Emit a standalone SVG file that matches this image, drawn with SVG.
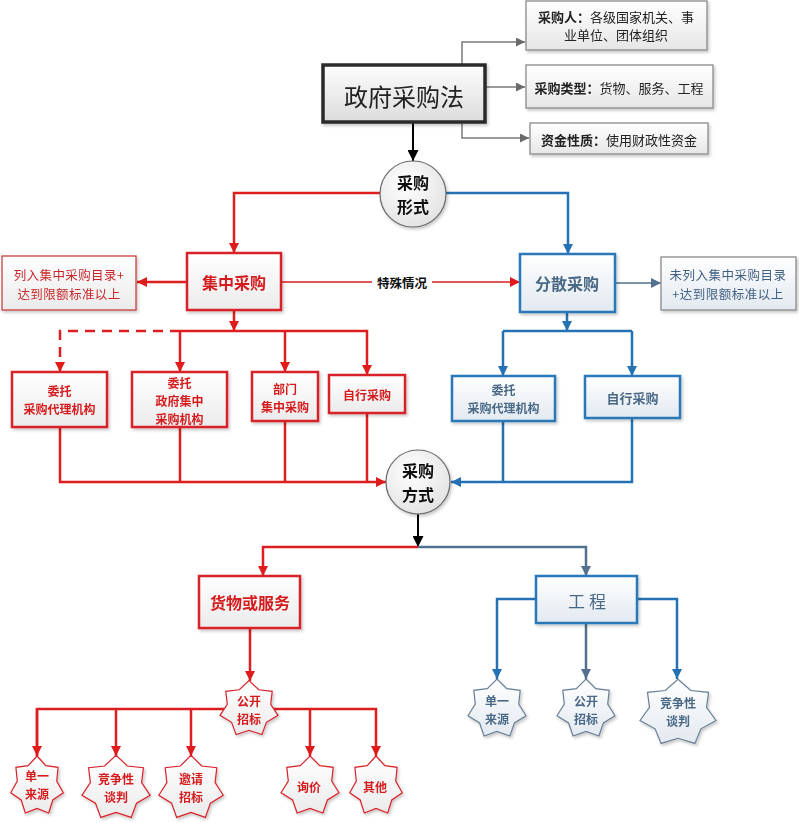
<svg xmlns="http://www.w3.org/2000/svg" width="799" height="823" viewBox="0 0 799 823">
<defs>
<style>
text{font-family:"Noto Sans CJK SC","Noto Sans",sans-serif;text-anchor:middle;dominant-baseline:central}
.ln{fill:none;stroke-width:2.5}
.r{stroke:#dd1d1f}
.b{stroke:#2472b3}
.s{stroke:#52708f}
.k{stroke:#000;stroke-width:2}
.g{fill:none;stroke:#7a7a7a;stroke-width:1.5}
.rb{fill:url(#gW);stroke:#d8222a;stroke-width:2.5}
.bb{fill:url(#gB);stroke:#2a78b8;stroke-width:2.5}
.gb{fill:url(#gG);stroke:#8a8a8a;stroke-width:1.3}
.rt{fill:#d41c1f;font-weight:bold}
.bt{fill:#4a6986;font-weight:bold}
.st{font-size:12px}
.ct{font-size:16px;font-weight:bold;fill:#111}
.rs{fill:url(#gW);stroke:#d8222a;stroke-width:1.2}
.bs{fill:url(#gB);stroke:#6a7f96;stroke-width:1.2}
</style>
<linearGradient id="gW" x1="0" y1="0" x2="0" y2="1"><stop offset="0" stop-color="#ffffff"/><stop offset="1" stop-color="#ebebeb"/></linearGradient>
<linearGradient id="gB" x1="0" y1="0" x2="0" y2="1"><stop offset="0" stop-color="#ffffff"/><stop offset="1" stop-color="#e2e9f0"/></linearGradient>
<linearGradient id="gG" x1="0" y1="0" x2="0" y2="1"><stop offset="0" stop-color="#ffffff"/><stop offset="1" stop-color="#e6e6e6"/></linearGradient>
<linearGradient id="gM" x1="0" y1="0" x2="0" y2="1"><stop offset="0" stop-color="#fdfdfd"/><stop offset="1" stop-color="#dcdcdc"/></linearGradient>
<radialGradient id="gC" cx="0.4" cy="0.35" r="0.7"><stop offset="0" stop-color="#ffffff"/><stop offset="1" stop-color="#e2e2e2"/></radialGradient>
<filter id="sh" x="-15%" y="-15%" width="140%" height="150%"><feDropShadow dx="1.5" dy="2" stdDeviation="1.5" flood-color="#000" flood-opacity="0.22"/></filter>
<marker id="aR" viewBox="0 0 10 10" refX="10" refY="5" markerWidth="11" markerHeight="10" markerUnits="userSpaceOnUse" orient="auto"><path d="M0,0 L10,5 L0,10 z" fill="#e01b1b"/></marker>
<marker id="aB" viewBox="0 0 10 10" refX="10" refY="5" markerWidth="11" markerHeight="10" markerUnits="userSpaceOnUse" orient="auto"><path d="M0,0 L10,5 L0,10 z" fill="#2472b3"/></marker>
<marker id="aS" viewBox="0 0 10 10" refX="10" refY="5" markerWidth="11" markerHeight="10" markerUnits="userSpaceOnUse" orient="auto"><path d="M0,0 L10,5 L0,10 z" fill="#52708f"/></marker>
<marker id="aK" viewBox="0 0 10 10" refX="10" refY="5" markerWidth="12" markerHeight="11" markerUnits="userSpaceOnUse" orient="auto"><path d="M0,0 L10,5 L0,10 z" fill="#000"/></marker>
<marker id="aG" viewBox="0 0 10 10" refX="10" refY="5" markerWidth="11" markerHeight="9" markerUnits="userSpaceOnUse" orient="auto"><path d="M0,0 L10,5 L0,10 z" fill="#6a6a6a"/></marker>
</defs>
<rect width="799" height="823" fill="#fff"/>

<g id="connectors">
  <path class="g" d="M462,65 V42 H525" marker-end="url(#aG)"/>
  <path class="g" d="M485,87 H525" marker-end="url(#aG)"/>
  <path class="g" d="M462,122 V138 H529" marker-end="url(#aG)"/>
  <path class="k" fill="none" d="M413,122 V161" marker-end="url(#aK)"/>
  <path class="ln r" d="M380,193 H234 V253" marker-end="url(#aR)"/>
  <path class="ln b" d="M446,193 H568 V254" marker-end="url(#aB)"/>
  <path class="ln r" d="M187,282 H137" marker-end="url(#aR)"/>
  <path class="ln r" d="M281,282 H520" style="stroke-width:1.6" marker-end="url(#aR)"/>
  <path class="ln s" d="M615,283 H661" style="stroke-width:1.6" marker-end="url(#aS)"/>
  <path class="ln r" d="M234,310 V331" marker-end="url(#aR)"/>
  <path class="ln r" d="M180,331 H60 V372" stroke-dasharray="10,7" marker-end="url(#aR)"/>
  <path class="ln r" d="M180,331 H367 V375" marker-end="url(#aR)"/>
  <path class="ln r" d="M180,331 V372" marker-end="url(#aR)"/>
  <path class="ln r" d="M285,331 V372" marker-end="url(#aR)"/>
  <path class="ln r" d="M60,427 V482 H386" marker-end="url(#aR)"/>
  <path class="ln r" d="M180,427 V482"/>
  <path class="ln r" d="M285,421 V482"/>
  <path class="ln r" d="M367,413 V482"/>
  <path class="ln b" d="M567,312 V331" marker-end="url(#aB)"/>
  <path class="ln b" d="M503,331 H632"/>
  <path class="ln b" d="M503,331 V376" marker-end="url(#aB)"/>
  <path class="ln b" d="M632,331 V376" marker-end="url(#aB)"/>
  <path class="ln b" d="M503,421 V482"/>
  <path class="ln b" d="M632,418 V482 H451" marker-end="url(#aB)"/>
  <path class="k" fill="none" d="M418,514 V547" marker-end="url(#aK)"/>
  <path class="ln r" d="M418,547 H263 V576" marker-end="url(#aR)"/>
  <path class="ln s" d="M418,547 H586 V576" marker-end="url(#aS)"/>
  <path class="ln b" d="M536,599 H497 V679" marker-end="url(#aB)"/>
  <path class="ln s" d="M586,623 V679" marker-end="url(#aS)"/>
  <path class="ln b" d="M637,599 H677 V679" marker-end="url(#aB)"/>
  <path class="ln r" d="M250,628 V681" marker-end="url(#aR)"/>
  <path class="ln r" d="M37,756 V709 H376 V756" marker-end="url(#aR)"/>
  <path class="ln r" d="M116,709 V756" marker-end="url(#aR)"/>
  <path class="ln r" d="M191,709 V756" marker-end="url(#aR)"/>
  <path class="ln r" d="M310,709 V756" marker-end="url(#aR)"/>
  <path class="ln r" d="M37,709 V756" marker-end="url(#aR)"/>
  <rect x="372" y="274" width="60" height="17" fill="#fff"/>
  <text x="402" y="282" style="font-size:12.5px;font-weight:bold" fill="#111">特殊情况</text>
</g>

<g id="n-law" filter="url(#sh)">
  <rect x="323" y="65" width="162" height="57" fill="url(#gM)" stroke="#2b2b2b" stroke-width="3.5"/>
  <text x="404" y="95" style="font-size:24px" fill="#222">政府采购法</text>
</g>
<g id="n-buyer" filter="url(#sh)">
  <rect class="gb" x="526" y="1" width="181" height="49"/>
  <text x="616" y="16" style="font-size:13px" fill="#222"><tspan font-weight="bold">采购人：</tspan>各级国家机关、事</text>
  <text x="616" y="34" style="font-size:13px" fill="#222">业单位、团体组织</text>
</g>
<g id="n-type" filter="url(#sh)">
  <rect class="gb" x="526" y="65" width="187" height="43"/>
  <text x="619" y="87" style="font-size:13px" fill="#222"><tspan font-weight="bold">采购类型：</tspan>货物、服务、工程</text>
</g>
<g id="n-fund" filter="url(#sh)">
  <rect class="gb" x="530" y="123" width="178" height="31"/>
  <text x="619" y="139" style="font-size:13px" fill="#222"><tspan font-weight="bold">资金性质：</tspan>使用财政性资金</text>
</g>

<g id="n-form" filter="url(#sh)">
  <circle cx="413" cy="194" r="33" fill="url(#gC)" stroke="#6a6a6a" stroke-width="1.2"/>
  <text class="ct" x="413" y="182">采购</text>
  <text class="ct" x="413" y="206">形式</text>
</g>

<g id="n-central" filter="url(#sh)">
  <rect class="rb" x="187" y="253" width="94" height="57"/>
  <text class="rt" x="234" y="282" style="font-size:16px">集中采购</text>
</g>
<g id="n-central-note" filter="url(#sh)">
  <rect x="2" y="256" width="134" height="54" fill="url(#gW)" stroke="#c84040" stroke-width="1.3"/>
  <text x="69" y="274" style="font-size:12.5px;letter-spacing:0.4px" fill="#c8282a">列入集中采购目录+</text>
  <text x="69" y="293" style="font-size:12.5px;letter-spacing:0.4px" fill="#c8282a">达到限额标准以上</text>
</g>
<g id="n-dispersed" filter="url(#sh)">
  <rect class="bb" x="520" y="254" width="95" height="58"/>
  <text class="bt" x="567" y="283" style="font-size:16px">分散采购</text>
</g>
<g id="n-dispersed-note" filter="url(#sh)">
  <rect class="gb" x="661" y="257" width="135" height="53" style="fill:url(#gB)"/>
  <text x="728" y="274" style="font-size:12.5px;letter-spacing:0.5px" fill="#3f5f80">未列入集中采购目录</text>
  <text x="728" y="293" style="font-size:12.5px;letter-spacing:0.5px" fill="#3f5f80">+达到限额标准以上</text>
</g>

<g id="n-c-agent" filter="url(#sh)">
  <rect class="rb" x="12" y="372" width="95" height="55"/>
  <text class="rt st" x="59.5" y="390.5">委托</text>
  <text class="rt st" x="59.5" y="408.5">采购代理机构</text>
</g>
<g id="n-c-gov" filter="url(#sh)">
  <rect class="rb" x="132" y="372" width="95" height="55"/>
  <text class="rt st" x="179.5" y="382">委托</text>
  <text class="rt st" x="179.5" y="400">政府集中</text>
  <text class="rt st" x="179.5" y="418">采购机构</text>
</g>
<g id="n-c-dept" filter="url(#sh)">
  <rect class="rb" x="252" y="372" width="66" height="49"/>
  <text class="rt st" x="285" y="388">部门</text>
  <text class="rt st" x="285" y="406">集中采购</text>
</g>
<g id="n-c-self" filter="url(#sh)">
  <rect class="rb" x="329" y="375" width="76" height="38"/>
  <text class="rt st" x="367" y="394">自行采购</text>
</g>
<g id="n-d-agent" filter="url(#sh)">
  <rect class="bb" x="452" y="376" width="103" height="45"/>
  <text class="bt st" x="503.5" y="389.5">委托</text>
  <text class="bt st" x="503.5" y="407.5">采购代理机构</text>
</g>
<g id="n-d-self" filter="url(#sh)">
  <rect class="bb" x="585" y="376" width="95" height="42"/>
  <text class="bt" x="632.5" y="397" style="font-size:13px">自行采购</text>
</g>

<g id="n-method" filter="url(#sh)">
  <circle cx="418" cy="482" r="32" fill="url(#gC)" stroke="#6a6a6a" stroke-width="1.2"/>
  <text class="ct" x="418" y="470">采购</text>
  <text class="ct" x="418" y="494">方式</text>
</g>

<g id="n-goods" filter="url(#sh)">
  <rect class="rb" x="199" y="576" width="101" height="52"/>
  <text class="rt" x="250" y="602" style="font-size:16px">货物或服务</text>
</g>
<g id="n-works" filter="url(#sh)">
  <rect class="bb" x="536" y="576" width="101" height="47"/>
  <text x="587" y="600" style="font-size:17px" fill="#4a6986">工 程</text>
</g>

<g id="n-r-open" filter="url(#sh)">
  <polygon class="rs" points="249,680.6 258.7,689.8 272.2,691.3 270.7,704.3 278,715.3 266.4,722.3 261.9,734.6 249,730.3 236.1,734.6 231.6,722.3 220,715.3 227.3,704.3 225.8,691.3 239.3,689.8"/>
  <text class="rt st" x="249" y="700">公开</text>
  <text class="rt st" x="249" y="718">招标</text>
</g>
<g id="n-r-single" filter="url(#sh)">
  <polygon class="rs" points="37,756 45.8,765.7 58.1,767.3 56.7,781 63.3,792.7 52.8,800 48.7,813 37,808.5 25.3,813 21.2,800 10.7,792.7 17.3,781 15.9,767.3 28.2,765.7"/>
  <text class="rt st" x="37" y="775">单一</text>
  <text class="rt st" x="37" y="793">来源</text>
</g>
<g id="n-r-compete" filter="url(#sh)">
  <polygon class="rs" points="116,755.4 127.4,766 143.4,767.7 141.6,782.6 150.1,795.3 136.5,803.2 131.2,817.4 116,812.5 100.8,817.4 95.5,803.2 81.9,795.3 90.4,782.6 88.6,767.7 104.6,766"/>
  <text class="rt st" x="116" y="778">竞争性</text>
  <text class="rt st" x="116" y="796">谈判</text>
</g>
<g id="n-r-invite" filter="url(#sh)">
  <polygon class="rs" points="191,755.4 201.7,766 216.8,767.7 215.1,782.6 223.2,795.3 210.4,803.2 205.3,817.4 191,812.5 176.7,817.4 171.6,803.2 158.8,795.3 166.9,782.6 165.2,767.7 180.3,766"/>
  <text class="rt st" x="191" y="778">邀请</text>
  <text class="rt st" x="191" y="796">招标</text>
</g>
<g id="n-r-inquiry" filter="url(#sh)">
  <polygon class="rs" points="310,756 319.7,765.7 333.2,767.3 331.7,781 339,792.7 327.4,800 322.9,813 310,808.5 297.1,813 292.6,800 281,792.7 288.3,781 286.8,767.3 300.3,765.7"/>
  <text class="rt st" x="309" y="786">询价</text>
</g>
<g id="n-r-other" filter="url(#sh)">
  <polygon class="rs" points="376,756 384.8,765.7 397.1,767.3 395.7,781 402.3,792.7 391.8,800 387.7,813 376,808.5 364.3,813 360.2,800 349.7,792.7 356.3,781 354.9,767.3 367.2,765.7"/>
  <text class="rt st" x="375" y="786">其他</text>
</g>

<g id="n-b-single" filter="url(#sh)">
  <polygon class="bs" points="497,679 506.7,688.7 520.2,690.3 518.7,704 526,715.7 514.4,723 509.9,736 497,731.5 484.1,736 479.6,723 468,715.7 475.3,704 473.8,690.3 487.3,688.7"/>
  <text class="bt st" x="497" y="700">单一</text>
  <text class="bt st" x="497" y="718">来源</text>
</g>
<g id="n-b-open" filter="url(#sh)">
  <polygon class="bs" points="586,679 595.7,688.7 609.2,690.3 607.7,704 615,715.7 603.4,723 598.9,736 586,731.5 573.1,736 568.6,723 557,715.7 564.3,704 562.8,690.3 576.3,688.7"/>
  <text class="bt st" x="586" y="700">公开</text>
  <text class="bt st" x="586" y="718">招标</text>
</g>
<g id="n-b-compete" filter="url(#sh)">
  <polygon class="bs" points="678,679.3 690.7,690.5 708.5,692.3 706.5,707.4 716,720.5 700.9,728.8 694.9,743.4 678,738.3 661.1,743.4 655.1,728.8 640,720.5 649.5,707.4 647.5,692.3 665.3,690.5"/>
  <text class="bt st" x="678" y="702">竞争性</text>
  <text class="bt st" x="678" y="720">谈判</text>
</g>
</svg>
